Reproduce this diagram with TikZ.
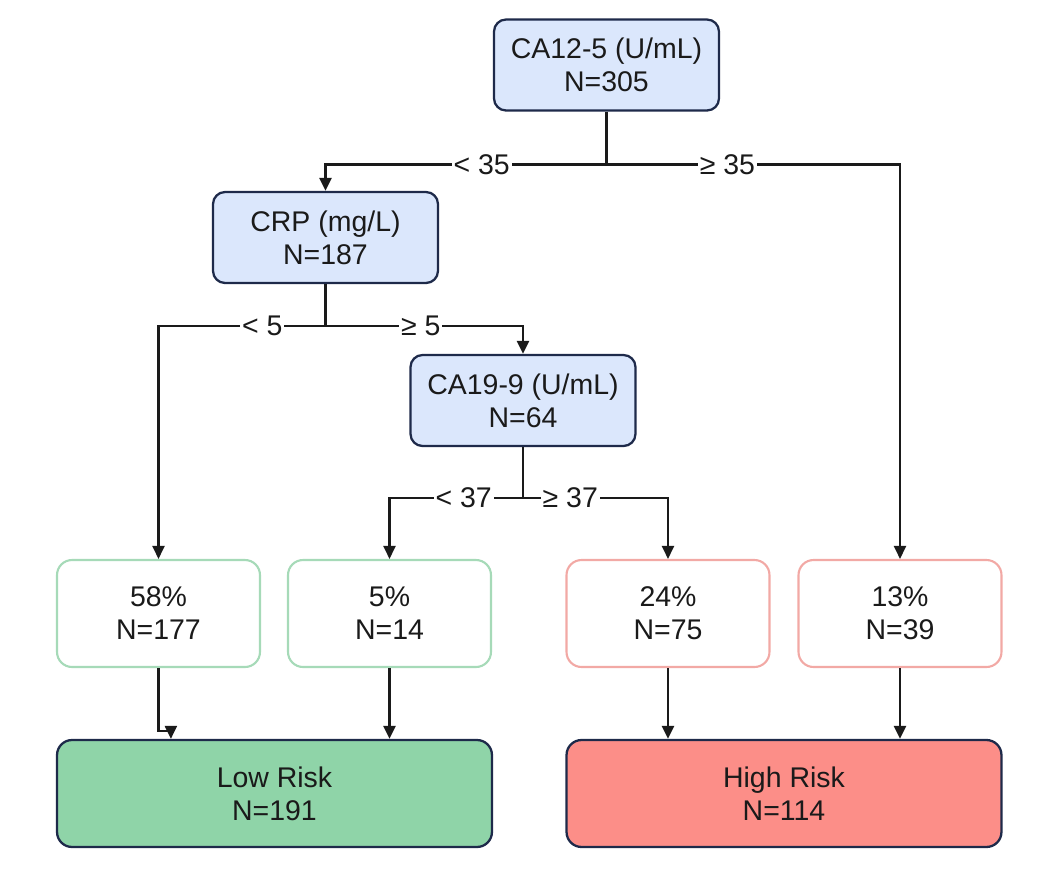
\documentclass[tikz,border=0pt]{standalone}
\usepackage{fontspec}
\setmainfont{Liberation Sans}
\usepackage{tikz}
\usetikzlibrary{arrows.meta,calc}
\definecolor{splitfill}{HTML}{DBE7FC}
\definecolor{splitdraw}{HTML}{1E2A4A}
\definecolor{lowdraw}{HTML}{A6DAB8}
\definecolor{highdraw}{HTML}{F2A9A5}
\definecolor{lowfill}{HTML}{8FD4A8}
\definecolor{highfill}{HTML}{FC8E88}
\definecolor{inkline}{HTML}{1A1A1A}

\begin{document}
\begin{tikzpicture}[x=0.02cm,y=-0.02cm,
 font=\fontsize{16.2}{18.8}\selectfont,
 split/.style={draw=splitdraw,fill=splitfill,line width=1.3pt,rounded corners=0.24cm,
   minimum width=4.5cm,minimum height=1.82cm,align=center,text=inkline},
 leaf/.style={fill=white,line width=1.2pt,rounded corners=0.3cm,
   minimum width=4.06cm,minimum height=2.14cm,align=center,text=inkline},
 risk/.style={draw=splitdraw,line width=1.3pt,rounded corners=0.3cm,
   minimum width=8.7cm,minimum height=2.14cm,align=center,text=inkline},
 wire/.style={draw=inkline,line width=1.3pt},
 arr/.style={wire,-{Triangle[length=0.26cm,width=0.24cm]}},
 cut/.style={fill=white,inner sep=1pt,text=inkline}]
\useasboundingbox (0,0) rectangle (1059,876);
% splits
\node[split] (root) at (606.5,65) {CA12-5 (U/mL)\\N=305};
\node[split] (crp) at (325.5,237.5) {CRP (mg/L)\\N=187};
\node[split] (ca) at (523,400.5) {CA19-9 (U/mL)\\N=64};
% leaves
\node[leaf,draw=lowdraw] (l58) at (158.5,613.5) {58\%\\N=177};
\node[leaf,draw=lowdraw] (l5) at (389.5,613.5) {5\%\\N=14};
\node[leaf,draw=highdraw] (l24) at (668,613.5) {24\%\\N=75};
\node[leaf,draw=highdraw] (l13) at (900,613.5) {13\%\\N=39};
% outcome
\node[risk,fill=lowfill] (low) at (274.5,793.5) {Low Risk\\N=191};
\node[risk,fill=highfill] (high) at (784,793.5) {High Risk\\N=114};

\coordinate (j1) at ($(root.south)+(0,53)$);
\coordinate (j2) at ($(crp.south)+(0,42)$);
\coordinate (j3) at ($(ca.south)+(0,51)$);

\draw[wire] (root.south) -- (j1);
\draw[arr] (j1) -| node[cut,pos=0.222]{< 35} (crp.north);
\draw[arr] (j1) -| node[cut,pos=0.206]{≥ 35} (l13.north);
\draw[wire] (crp.south) -- (j2);
\draw[arr] (j2) -| node[cut,pos=0.189]{< 5} (l58.north);
\draw[arr] (j2) -| node[cut,pos=0.241]{≥ 5} (ca.north);
\draw[wire] (ca.south) -- (j3);
\draw[arr] (j3) -| node[cut,pos=0.222]{< 37} (l5.north);
\draw[arr] (j3) -| node[cut,pos=0.163]{≥ 37} (l24.north);

\draw[arr] (l58.south) -- ++(0,63) -| ($(low.north west)+(115,0)$);
\draw[arr] (l5.south) -- (l5.south |- low.north);
\draw[arr] (l24.south) -- (l24.south |- high.north);
\draw[arr] (l13.south) -- (l13.south |- high.north);
\end{tikzpicture}
\end{document}
